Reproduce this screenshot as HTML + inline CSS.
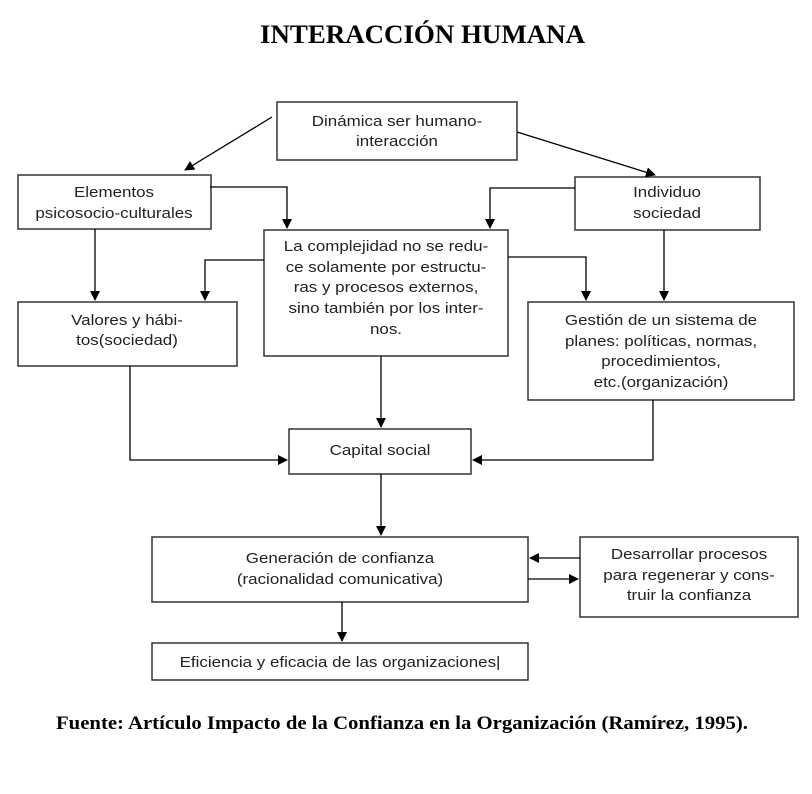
<!DOCTYPE html>
<html><head><meta charset="utf-8"><style>
body{margin:0;background:#fff}
svg text{font-family:"Liberation Sans",sans-serif;font-size:15px;fill:#222}
</style></head><body>
<svg width="812" height="789" viewBox="0 0 812 789" xmlns="http://www.w3.org/2000/svg">
<defs><marker id="a" markerWidth="10" markerHeight="10" refX="9" refY="5" orient="auto" markerUnits="userSpaceOnUse"><path d="M0,0 L10,5 L0,10 z" fill="#000"/></marker></defs>
<text x="260" y="43" textLength="325" lengthAdjust="spacingAndGlyphs" style="font-family:'Liberation Serif',serif;font-weight:bold;font-size:26px;fill:#000">INTERACCIÓN HUMANA</text>
<g fill="none" stroke="#333" stroke-width="1.5">
<rect x="277" y="102" width="240" height="58"/>
<rect x="18" y="175" width="193" height="54"/>
<rect x="575" y="177" width="185" height="53"/>
<rect x="264" y="230" width="244" height="126"/>
<rect x="18" y="302" width="219" height="64"/>
<rect x="528" y="302" width="266" height="98"/>
<rect x="289" y="429" width="182" height="45"/>
<rect x="152" y="537" width="376" height="65"/>
<rect x="580" y="537" width="218" height="80"/>
<rect x="152" y="643" width="376" height="37"/>
</g>
<g fill="none" stroke="#000" stroke-width="1.3" marker-end="url(#a)">
<path d="M272,117 L185,170"/>
<path d="M517,132 L655,175"/>
<path d="M210,187 H287 V228"/>
<path d="M95,229 V300"/>
<path d="M264,260 H205 V300"/>
<path d="M575,188 H490 V228"/>
<path d="M508,257 H586 V300"/>
<path d="M664,230 V300"/>
<path d="M130,366 V460 H287"/>
<path d="M381,356 V427"/>
<path d="M653,400 V460 H473"/>
<path d="M381,474 V535"/>
<path d="M580,558 H530"/>
<path d="M528,579 H578"/>
<path d="M342,602 V641"/>
</g>
<g text-anchor="middle">
<g transform="translate(397 0) scale(1.13 1)"><text x="0" y="126">Dinámica ser humano-</text><text x="0" y="146">interacción</text></g>
<g transform="translate(114 0) scale(1.13 1)"><text x="0" y="197">Elementos</text><text x="0" y="218">psicosocio-culturales</text></g>
<g transform="translate(667 0) scale(1.13 1)"><text x="0" y="197">Individuo</text><text x="0" y="218">sociedad</text></g>
<g transform="translate(386 0) scale(1.13 1)"><text x="0" y="251">La complejidad no se redu-</text><text x="0" y="272">ce solamente por estructu-</text><text x="0" y="292">ras y procesos externos,</text><text x="0" y="313">sino también por los inter-</text><text x="0" y="334">nos.</text></g>
<g transform="translate(127 0) scale(1.13 1)"><text x="0" y="325">Valores y hábi-</text><text x="0" y="345">tos(sociedad)</text></g>
<g transform="translate(661 0) scale(1.13 1)"><text x="0" y="325">Gestión de un sistema de</text><text x="0" y="346">planes: políticas, normas,</text><text x="0" y="366">procedimientos,</text><text x="0" y="387">etc.(organización)</text></g>
<g transform="translate(380 0) scale(1.13 1)"><text x="0" y="455">Capital social</text></g>
<g transform="translate(340 0) scale(1.13 1)"><text x="0" y="563">Generación de confianza</text><text x="0" y="584">(racionalidad comunicativa)</text></g>
<g transform="translate(689 0) scale(1.13 1)"><text x="0" y="559">Desarrollar procesos</text><text x="0" y="580">para regenerar y cons-</text><text x="0" y="600">truir la confianza</text></g>
<g transform="translate(340 0) scale(1.13 1)"><text x="0" y="667">Eficiencia y eficacia de las organizaciones|</text></g>
</g>
<text x="56" y="729" textLength="692" lengthAdjust="spacingAndGlyphs" style="font-family:'Liberation Serif',serif;font-weight:bold;font-size:19px;fill:#000">Fuente: Artículo Impacto de la Confianza en la Organización (Ramírez, 1995).</text>
</svg>
</body></html>
